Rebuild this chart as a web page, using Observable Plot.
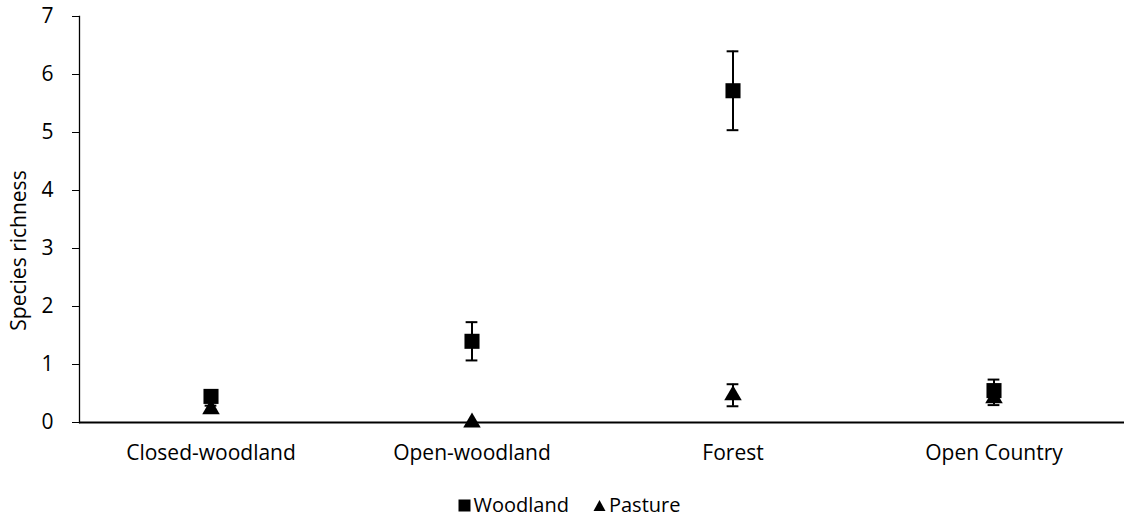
<!DOCTYPE html>
<html>
<head>
<meta charset="utf-8">
<script src="https://cdn.jsdelivr.net/npm/d3@7"></script>
<script src="https://cdn.jsdelivr.net/npm/@observablehq/plot@0.6"></script>
<style>
  html, body { margin: 0; padding: 0; background: #fff; }
  #chart { width: 1124px; }
  #legend { width: 1124px; height: 29px; display: flex; justify-content: center; align-items: center;
    font-family: "Open Sans", sans-serif; font-size: 20px; color: #000; }
  #legend .item { display: flex; align-items: center; }
  #legend svg { margin-right: 3px; }
</style>
</head>
<body>
<div id="chart"></div>
<div id="legend"></div>
<script>
const categories = ["Closed-woodland", "Open-woodland", "Forest", "Open Country"];
const seriesNames = ["Woodland", "Pasture"];
const woodland = [0.45, 1.40, 5.72, 0.55];
const woodlandErr = [0.09, 0.33, 0.68, 0.19];
const pasture = [0.23, 0, 0.47, 0.42];
const pastureErr = [0.06, 0, 0.19, 0.12];
const yTicks = [0, 1, 2, 3, 4, 5, 6, 7];

const rows = [];
categories.forEach((c, i) => {
  rows.push({category: c, series: "Woodland", value: woodland[i], err: woodlandErr[i]});
  rows.push({category: c, series: "Pasture", value: pasture[i], err: pastureErr[i]});
});
const errRows = rows.filter(d => d.err > 0);

const W = 1124, H = 490, ML = 79, MR = 0, MT = 16, MB = 68;
const bandwidth = (W - ML - MR) / categories.length;
const capW = 12;
const inset = (bandwidth - capW) / 2;

const chart = Plot.plot({
  width: W, height: H,
  marginLeft: ML, marginRight: MR, marginTop: MT, marginBottom: MB,
  style: {fontFamily: "Open Sans", fontSize: "21px", color: "#000", background: "#fff", overflow: "visible"},
  x: {domain: categories, padding: 0},
  y: {domain: [0, 7]},
  marks: [
    Plot.axisY({ticks: yTicks, tickFormat: d => String(d), tickSize: 7, tickPadding: 19, label: null, fontSize: 21}),
    Plot.axisX({tickSize: 0, tickPadding: 23, label: null, fontSize: 21}),
    Plot.frame({anchor: "left", stroke: "#000", strokeWidth: 1.3}),
    Plot.ruleY([0], {stroke: "#000", strokeWidth: 2}),
    Plot.ruleX(errRows, {x: "category", y1: d => d.value - d.err, y2: d => d.value + d.err, stroke: "#000", strokeWidth: 2}),
    Plot.tickY(errRows, {x: "category", y: d => d.value - d.err, insetLeft: inset, insetRight: inset, stroke: "#000", strokeWidth: 2}),
    Plot.tickY(errRows, {x: "category", y: d => d.value + d.err, insetLeft: inset, insetRight: inset, stroke: "#000", strokeWidth: 2}),
    Plot.dot(rows.filter(d => d.series === "Pasture"), {x: "category", y: "value", symbol: () => "triangle", fill: "#000", r: 6.5}),
    Plot.dot(rows.filter(d => d.series === "Woodland"), {x: "category", y: "value", symbol: () => "square", fill: "#000", r: 8.5}),
    Plot.text(["Species richness"], {frameAnchor: "left", textAnchor: "middle", rotate: -90, dx: -60, dy: 31, fontSize: 21, fill: "#000"})
  ]
});
document.getElementById("chart").appendChild(chart);

const legend = document.getElementById("legend");
legend.style.paddingLeft = "14px";
legend.style.boxSizing = "border-box";
const sq = `<svg width="13" height="14" viewBox="0 0 13 14"><rect x="0.5" y="1.5" width="12" height="12" fill="#000"/></svg>`;
const tri = `<svg width="13" height="14" viewBox="0 0 13 14"><path d="M6.5,2 L12.5,13 L0.5,13 Z" fill="#000"/></svg>`;
legend.innerHTML = `<span class="item">${sq}<span>${seriesNames[0]}</span></span>` +
  `<span class="item" style="margin-left:24px">${tri}<span>${seriesNames[1]}</span></span>`;
</script>
</body>
</html>
